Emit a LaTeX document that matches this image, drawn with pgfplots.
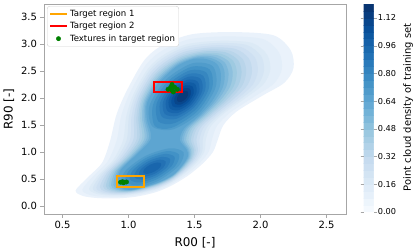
\documentclass[border=0pt]{standalone}
\usepackage{pgfplots}
\pgfplotsset{compat=1.18}
\usepackage{fontspec}
\setmainfont{DejaVu Sans}
\definecolor{c0}{RGB}{234,242,251}
\definecolor{c1}{RGB}{220,234,246}
\definecolor{c2}{RGB}{206,224,242}
\definecolor{c3}{RGB}{185,213,234}
\definecolor{c4}{RGB}{158,202,225}
\definecolor{c5}{RGB}{124,183,218}
\definecolor{c6}{RGB}{93,165,209}
\definecolor{c7}{RGB}{66,146,198}
\definecolor{c8}{RGB}{44,124,187}
\definecolor{c9}{RGB}{25,102,173}
\definecolor{c10}{RGB}{8,81,156}
\definecolor{c11}{RGB}{8,59,123}
\colorlet{c0h}{c0!50!c1}
\colorlet{c1h}{c1!50!c2}
\colorlet{c2h}{c2!50!c3}
\colorlet{c3h}{c3!50!c4}
\colorlet{c4h}{c4!50!c5}
\colorlet{c5h}{c5!50!c6}
\colorlet{c6h}{c6!50!c7}
\colorlet{c7h}{c7!50!c8}
\colorlet{c8h}{c8!50!c9}
\colorlet{c9h}{c9!50!c10}
\colorlet{c10h}{c10!50!c11}
\definecolor{mplorange}{RGB}{255,165,0}
\definecolor{mplred}{RGB}{255,0,0}
\definecolor{mplgreen}{RGB}{0,128,0}
\pgfplotsset{colormap={Blues}{rgb255=(247,251,255) rgb255=(222,235,247) rgb255=(198,219,239) rgb255=(158,202,225) rgb255=(107,174,214) rgb255=(66,146,198) rgb255=(33,113,181) rgb255=(8,81,156) rgb255=(8,48,107)},
  lev/.style={forget plot, draw=none, fill=#1, smooth cycle}}
\begin{document}
\begin{tikzpicture}
\begin{axis}[name=main, scale only axis, width=302bp, height=210bp,
  xmin=0.36, xmax=2.648, ymin=-0.148, ymax=3.74,
  xtick={0.5,1.0,1.5,2.0,2.5}, ytick={0,0.5,1.0,1.5,2.0,2.5,3.0,3.5},
  xticklabels={0.5,1.0,1.5,2.0,2.5},
  yticklabels={0.0,0.5,1.0,1.5,2.0,2.5,3.0,3.5},
  tick label style={font=\fontsize{10}{12}\selectfont},
  label style={font=\fontsize{12}{14}\selectfont},
  xlabel={R00 [-]}, ylabel={R90 [-]},
  xlabel style={yshift=-2bp},
  axis line style={gray!70}, tick style={gray!70, line width=0.8bp},
  tick align=outside, major tick length=3.5bp,
  xtick pos=left, ytick pos=left, axis on top,
  legend cell align=left,
  legend style={at={(0.01,0.99)}, anchor=north west, draw=gray!35, rounded corners=2.5bp,
    font=\fontsize{8.6}{9.8}\selectfont, inner sep=1.8bp, row sep=0.3bp},
  colormap name=Blues, point meta min=0, point meta max=1.2,
  colorbar sampled,
  colorbar style={samples=31, scale only axis, width=10bp, height=208bp,
    at={(parent axis.north east)}, anchor=north west, xshift=9bp,
    ytick={0,0.16,0.32,0.48,0.64,0.8,0.96,1.12},
    yticklabels={0.00,0.16,0.32,0.48,0.64,0.80,0.96,1.12},
    yticklabel style={font=\fontsize{8.2}{10}\selectfont, inner sep=1.2bp},
    tick align=outside, major tick length=3bp, tick style={gray!70},
    axis line style={draw=none}},
]
% density contours (filled levels)
\addplot[lev=c0] coordinates {(0.60,0.29) (0.65,0.19) (0.75,0.15) (0.90,0.14) (1.05,0.17) (1.20,0.25) (1.32,0.37) (1.45,0.56) (1.56,0.78) (1.64,1.00) (1.68,1.25) (1.72,1.50) (1.82,1.75) (2.02,2.05) (2.18,2.28) (2.25,2.55) (2.23,2.88) (2.10,3.16) (1.80,3.22) (1.48,3.18) (1.26,2.98) (1.12,2.70) (0.99,2.15) (0.91,1.70) (0.86,1.20) (0.80,0.80) (0.70,0.55)};
\addplot[lev=c0h] coordinates {(0.651,0.308) (0.698,0.213) (0.790,0.174) (0.924,0.167) (1.063,0.201) (1.207,0.282) (1.323,0.404) (1.444,0.592) (1.543,0.803) (1.608,1.008) (1.634,1.245) (1.672,1.489) (1.774,1.736) (1.958,2.031) (2.102,2.267) (2.162,2.534) (2.141,2.840) (2.019,3.090) (1.751,3.140) (1.464,3.089) (1.265,2.892) (1.135,2.623) (1.014,2.110) (0.947,1.684) (0.910,1.208) (0.842,0.824) (0.739,0.568)};
\addplot[lev=c1] coordinates {(0.702,0.325) (0.746,0.235) (0.830,0.198) (0.948,0.194) (1.076,0.231) (1.213,0.314) (1.326,0.437) (1.437,0.624) (1.525,0.825) (1.576,1.016) (1.587,1.240) (1.624,1.478) (1.727,1.721) (1.895,2.012) (2.023,2.254) (2.074,2.518) (2.051,2.800) (1.937,3.019) (1.701,3.060) (1.448,2.998) (1.270,2.804) (1.149,2.546) (1.038,2.070) (0.984,1.668) (0.959,1.216) (0.883,0.848) (0.777,0.585)};
\addplot[lev=c1h] coordinates {(0.730,0.335) (0.772,0.247) (0.852,0.211) (0.961,0.209) (1.083,0.247) (1.217,0.331) (1.328,0.455) (1.434,0.641) (1.516,0.837) (1.559,1.021) (1.563,1.238) (1.599,1.472) (1.703,1.714) (1.862,2.002) (1.982,2.248) (2.027,2.510) (2.004,2.779) (1.894,2.982) (1.675,3.018) (1.440,2.950) (1.273,2.757) (1.157,2.506) (1.051,2.049) (1.004,1.660) (0.986,1.221) (0.905,0.861) (0.798,0.595)};
\addplot[lev=c2] coordinates {(0.757,0.344) (0.797,0.259) (0.873,0.224) (0.974,0.223) (1.089,0.263) (1.220,0.348) (1.330,0.473) (1.430,0.658) (1.506,0.849) (1.542,1.025) (1.538,1.235) (1.573,1.466) (1.678,1.706) (1.829,1.991) (1.940,2.241) (1.980,2.501) (1.956,2.757) (1.850,2.944) (1.648,2.975) (1.431,2.901) (1.275,2.710) (1.164,2.465) (1.064,2.027) (1.023,1.651) (1.012,1.225) (0.927,0.874) (0.818,0.604)};
\addplot[lev=c2h] coordinates {(0.783,0.353) (0.821,0.270) (0.893,0.236) (0.986,0.237) (1.096,0.279) (1.223,0.364) (1.332,0.490) (1.427,0.674) (1.497,0.860) (1.526,1.029) (1.515,1.233) (1.549,1.460) (1.655,1.699) (1.798,1.982) (1.901,2.235) (1.936,2.493) (1.911,2.737) (1.809,2.909) (1.623,2.935) (1.423,2.855) (1.278,2.666) (1.172,2.427) (1.076,2.007) (1.042,1.643) (1.037,1.229) (0.948,0.886) (0.837,0.613)};
\addplot[lev=c3] coordinates {(0.808,0.362) (0.845,0.281) (0.913,0.248) (0.998,0.251) (1.102,0.294) (1.226,0.380) (1.333,0.507) (1.424,0.690) (1.488,0.871) (1.510,1.033) (1.491,1.230) (1.525,1.454) (1.631,1.691) (1.766,1.972) (1.861,2.228) (1.892,2.485) (1.866,2.717) (1.768,2.874) (1.598,2.895) (1.415,2.809) (1.280,2.622) (1.179,2.388) (1.088,1.987) (1.060,1.635) (1.062,1.233) (0.969,0.898) (0.856,0.622)};
\addplot[lev=c3h] coordinates {(0.829,0.369) (0.865,0.290) (0.929,0.258) (1.008,0.262) (1.107,0.306) (1.229,0.393) (1.335,0.521) (1.422,0.703) (1.481,0.880) (1.497,1.036) (1.473,1.229) (1.506,1.450) (1.613,1.686) (1.741,1.964) (1.830,2.223) (1.857,2.479) (1.830,2.701) (1.735,2.846) (1.578,2.863) (1.409,2.772) (1.282,2.587) (1.185,2.357) (1.098,1.971) (1.075,1.629) (1.082,1.236) (0.986,0.908) (0.872,0.629)};
\addplot[lev=c4] coordinates {(0.850,0.376) (0.884,0.299) (0.945,0.267) (1.017,0.273) (1.112,0.318) (1.231,0.406) (1.336,0.534) (1.419,0.716) (1.474,0.889) (1.484,1.039) (1.454,1.227) (1.486,1.445) (1.594,1.680) (1.716,1.956) (1.798,2.218) (1.821,2.472) (1.793,2.685) (1.702,2.817) (1.558,2.830) (1.402,2.735) (1.283,2.551) (1.190,2.326) (1.107,1.955) (1.089,1.622) (1.102,1.239) (1.003,0.917) (0.887,0.636)};
\addplot[lev=c4h] coordinates {(0.868,0.382) (0.902,0.307) (0.960,0.276) (1.026,0.283) (1.117,0.329) (1.234,0.418) (1.337,0.546) (1.417,0.728) (1.468,0.897) (1.473,1.042) (1.437,1.225) (1.469,1.441) (1.577,1.675) (1.694,1.950) (1.770,2.213) (1.790,2.466) (1.761,2.671) (1.673,2.792) (1.541,2.801) (1.396,2.703) (1.285,2.520) (1.196,2.298) (1.116,1.941) (1.103,1.616) (1.120,1.242) (1.018,0.926) (0.901,0.642)};
\addplot[lev=c5] coordinates {(0.886,0.388) (0.919,0.315) (0.974,0.284) (1.034,0.292) (1.122,0.340) (1.236,0.429) (1.338,0.558) (1.414,0.739) (1.462,0.905) (1.461,1.045) (1.420,1.223) (1.451,1.437) (1.560,1.669) (1.671,1.943) (1.741,2.208) (1.758,2.460) (1.729,2.656) (1.644,2.766) (1.523,2.772) (1.390,2.670) (1.287,2.488) (1.201,2.270) (1.124,1.926) (1.116,1.610) (1.137,1.245) (1.033,0.934) (0.915,0.648)};
\addplot[lev=c5h] coordinates {(0.903,0.394) (0.935,0.323) (0.987,0.292) (1.042,0.301) (1.126,0.350) (1.238,0.440) (1.339,0.569) (1.412,0.750) (1.456,0.913) (1.451,1.048) (1.405,1.222) (1.436,1.434) (1.545,1.665) (1.651,1.937) (1.716,2.204) (1.729,2.455) (1.700,2.643) (1.617,2.743) (1.507,2.746) (1.385,2.640) (1.289,2.459) (1.206,2.245) (1.132,1.913) (1.128,1.605) (1.154,1.248) (1.047,0.942) (0.928,0.654)};
\addplot[lev=c6] coordinates {(0.92,0.40) (0.95,0.33) (1.00,0.30) (1.05,0.31) (1.13,0.36) (1.24,0.45) (1.34,0.58) (1.41,0.76) (1.45,0.92) (1.44,1.05) (1.39,1.22) (1.42,1.43) (1.53,1.66) (1.63,1.93) (1.69,2.20) (1.70,2.45) (1.67,2.63) (1.59,2.72) (1.49,2.72) (1.38,2.61) (1.29,2.43) (1.21,2.22) (1.14,1.90) (1.14,1.60) (1.17,1.25) (1.06,0.95) (0.94,0.66)};
\addplot[lev=c6h] coordinates {(1.639,2.587) (1.661,2.206) (1.536,1.722) (1.338,1.419) (1.181,1.473) (1.159,1.854) (1.284,2.338) (1.482,2.641)};
\addplot[lev=c6h] coordinates {(1.417,0.992) (1.381,0.743) (1.228,0.469) (1.046,0.331) (0.943,0.408) (0.979,0.657) (1.132,0.931) (1.314,1.069)};
\addplot[lev=c7] coordinates {(1.615,2.528) (1.634,2.187) (1.523,1.755) (1.33,1.45) (1.20,1.48) (1.186,1.873) (1.297,2.305) (1.475,2.576)};
\addplot[lev=c7] coordinates {(1.383,0.950) (1.353,0.737) (1.221,0.502) (1.066,0.384) (0.977,0.450) (1.007,0.663) (1.139,0.898) (1.294,1.016)};
\addplot[lev=c7h] coordinates {(1.591,2.469) (1.608,2.169) (1.510,1.788) (1.346,1.532) (1.227,1.565) (1.213,1.892) (1.311,2.272) (1.467,2.512)};
\addplot[lev=c7h] coordinates {(1.349,0.909) (1.324,0.731) (1.214,0.535) (1.085,0.437) (1.011,0.492) (1.036,0.669) (1.146,0.865) (1.275,0.964)};
\addplot[lev=c8] coordinates {(1.566,2.410) (1.581,2.150) (1.496,1.821) (1.361,1.613) (1.254,1.650) (1.239,1.910) (1.324,2.239) (1.459,2.447)};
\addplot[lev=c8] coordinates {(1.315,0.867) (1.295,0.725) (1.207,0.568) (1.104,0.489) (1.045,0.533) (1.065,0.675) (1.153,0.832) (1.256,0.911)};
\addplot[lev=c8h] coordinates {(1.545,2.358) (1.559,2.132) (1.486,1.847) (1.369,1.669) (1.276,1.703) (1.262,1.929) (1.335,2.213) (1.452,2.392)};
\addplot[lev=c8h] coordinates {(1.282,0.825) (1.267,0.719) (1.201,0.601) (1.123,0.542) (1.079,0.575) (1.094,0.682) (1.160,0.799) (1.237,0.859)};
\addplot[lev=c9] coordinates {(1.523,2.305) (1.536,2.113) (1.475,1.873) (1.376,1.724) (1.297,1.755) (1.284,1.947) (1.345,2.187) (1.444,2.336)};
\addplot[lev=c9] coordinates {(1.248,0.783) (1.238,0.712) (1.194,0.634) (1.142,0.594) (1.112,0.617) (1.122,0.688) (1.166,0.766) (1.218,0.806)};
\addplot[lev=c9h] coordinates {(1.504,2.259) (1.515,2.100) (1.464,1.899) (1.382,1.775) (1.316,1.801) (1.305,1.961) (1.356,2.161) (1.439,2.285)};
\addplot[lev=c10] coordinates {(1.485,2.213) (1.494,2.086) (1.453,1.925) (1.387,1.826) (1.335,1.847) (1.326,1.974) (1.367,2.135) (1.433,2.234)};
\addplot[lev=c10h] coordinates {(1.467,2.168) (1.473,2.072) (1.443,1.952) (1.393,1.877) (1.354,1.893) (1.347,1.988) (1.378,2.109) (1.427,2.183)};
\addplot[lev=c11] coordinates {(1.448,2.122) (1.452,2.058) (1.432,1.978) (1.399,1.928) (1.372,1.938) (1.368,2.002) (1.388,2.082) (1.421,2.132)};
% target regions
\addplot[mplorange, line width=2bp, line join=miter] coordinates {(1.015,0.36) (1.12,0.36) (1.12,0.55) (0.91,0.55) (0.91,0.36) (1.015,0.36)};
\addlegendentry{Target region 1}
\addplot[mplred, line width=2bp, line join=miter] coordinates {(1.30,2.11) (1.405,2.11) (1.405,2.29) (1.195,2.29) (1.195,2.11) (1.30,2.11)};
\addlegendentry{Target region 2}
\addplot[only marks, mark=*, mark size=2.2bp, mplgreen, mark options={draw=mplgreen, fill=mplgreen}] coordinates {(1.33,2.25) (1.32,2.20) (1.35,2.20) (1.30,2.16) (1.37,2.16) (1.33,2.14) (1.34,2.11) (0.94,0.44) (0.955,0.45) (0.97,0.44) (0.985,0.445) (0.96,0.43)};
\addlegendentry{Textures in target region}
\end{axis}
\node[rotate=90, anchor=center, inner sep=0pt, font=\fontsize{10}{12}\selectfont] at ([xshift=62bp,yshift=1.5bp]main.east) {Point cloud density of training set};
\pgfresetboundingbox
\path (main.south west) ++(-44bp,-38bp) rectangle ++(415bp,252bp);
\end{tikzpicture}
\end{document}
